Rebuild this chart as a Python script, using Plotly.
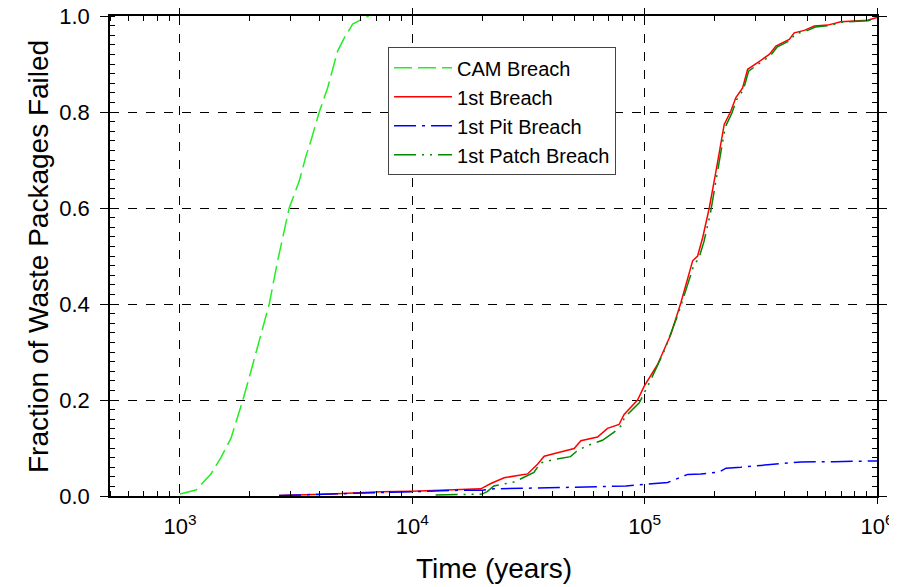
import plotly.graph_objects as go

# ---- data ----
cam_t = [1000, 1172, 1360, 1501, 1657, 1861, 2021, 2231, 2423, 2633, 2953, 3261, 3485, 3662,
         3976, 4320, 4770, 5093, 5536, 6209, 6500]
cam_f = [0.004, 0.0125, 0.046, 0.08, 0.12, 0.198, 0.26, 0.337, 0.40, 0.49, 0.60, 0.656, 0.708,
         0.74, 0.80, 0.85, 0.927, 0.954, 0.983, 0.996, 1.0]

first_t = [2670, 4470, 7330, 10000, 19720, 21780, 24860, 31330, 34600, 36950, 42170, 49740, 53160,
           62680, 69200, 77620, 81580, 93200, 99600, 113700, 129700, 143300, 160900, 169000,
           177700, 189700, 202800, 209600, 220000, 235000, 247000, 264000, 277500, 306400,
           343800, 367300, 419000, 440300, 486600, 537400, 613000, 699400, 911000, 1000000]
first_f = [0.001, 0.004, 0.009, 0.010, 0.015, 0.026, 0.038, 0.046, 0.066, 0.083, 0.090, 0.099, 0.115,
           0.123, 0.141, 0.149, 0.170, 0.200, 0.229, 0.274, 0.337, 0.403, 0.490, 0.500,
           0.538, 0.600, 0.677, 0.715, 0.774, 0.802, 0.830, 0.850, 0.889, 0.903,
           0.920, 0.9375, 0.951, 0.965, 0.970, 0.979, 0.981, 0.988, 0.991, 0.997]

pit_t = [2670, 4470, 7300, 10000, 16100, 20000, 21000, 22400, 38300, 64900, 74000, 83100, 99600,
         125600, 153100, 174700, 209500, 224000, 259600, 385900, 470500, 654600, 1000000]
pit_f = [0.001, 0.004, 0.008, 0.010, 0.012, 0.012, 0.013, 0.015, 0.017, 0.019, 0.021, 0.021, 0.024,
         0.028, 0.045, 0.046, 0.050, 0.058, 0.060, 0.067, 0.071, 0.0715, 0.073]

patch_t = [12600, 18000, 20000, 21000, 22440, 27370, 33370, 35660, 40660, 47960, 51260, 56600,
           65860, 73840, 80300, 81600, 94800, 106500, 121400, 140800, 162500, 171000, 180000,
           192000, 205000, 212000, 222000, 237000, 249000, 266000, 280000, 309000, 347000,
           371000, 423000, 445000, 492000, 543000, 620000, 705000, 915000, 1000000]
patch_f = [0.002, 0.003, 0.004, 0.009, 0.021, 0.029, 0.049, 0.069, 0.076, 0.082, 0.094, 0.105,
           0.116, 0.133, 0.149, 0.163, 0.194, 0.243, 0.302, 0.385, 0.480, 0.495, 0.530,
           0.590, 0.670, 0.708, 0.768, 0.797, 0.826, 0.846, 0.885, 0.900, 0.917,
           0.935, 0.949, 0.963, 0.968, 0.977, 0.980, 0.987, 0.990, 0.996]

series = [
    ("CAM Breach", cam_t, cam_f, "#22ee22", "18px,6px"),
    ("1st Breach", first_t, first_f, "#ff0000", "solid"),
    ("1st Pit Breach", pit_t, pit_f, "#0000ff", "22px,6px,3px,6px"),
    ("1st Patch Breach", patch_t, patch_f, "#008800", "22px,6px,2px,6px,2px,6px"),
]

x_major = [1e3, 1e4, 1e5, 1e6]
x_major_text = ["10<sup>3</sup>", "10<sup>4</sup>", "10<sup>5</sup>", "10<sup>6</sup>"]
y_major = [0.0, 0.2, 0.4, 0.6, 0.8, 1.0]

fig = go.Figure()
for name, t, f, color, dash in series:
    fig.add_trace(go.Scatter(x=t, y=f, mode="lines", name=name,
                             line=dict(color=color, width=1.5, dash=dash)))

x_minor = [m * 10 ** e for e in range(2, 6) for m in range(2, 10) if 500 <= m * 10 ** e <= 1e6]
y_minor = [i / 50 for i in range(51)]

font = "Liberation Sans, Arial, sans-serif"
fig.update_layout(
    width=889, height=579,
    margin=dict(l=102, r=20, t=8, b=91),
    paper_bgcolor="white", plot_bgcolor="white",
    font=dict(family=font, color="black"),
    showlegend=True,
    legend=dict(x=0.3625, y=0.935, xanchor="left", yanchor="top",
                bordercolor="#444", borderwidth=1, bgcolor="white",
                font=dict(size=20, family=font), itemwidth=58,
                tracegroupgap=0),
    annotations=[
        dict(text="Time (years)", xref="paper", yref="paper", x=0.5, y=-0.152,
             xanchor="center", yanchor="middle", showarrow=False,
             font=dict(size=28, family=font)),
        dict(text="Fraction of Waste Packages Failed", xref="paper", yref="paper",
             x=-0.0939, y=0.5, xanchor="center", yanchor="middle", textangle=-90,
             showarrow=False, font=dict(size=28, family=font)),
    ],
)
fig.update_xaxes(
    type="log", range=[2.69897, 6], automargin=False,
    tickmode="array", tickvals=x_major, ticktext=x_major_text,
    tickfont=dict(size=22), ticks="outside", ticklen=6, tickcolor="black",
    showline=True, linecolor="black", linewidth=1.5, mirror="allticks",
    showgrid=True, gridcolor="black", griddash="dash", gridwidth=1,
    zeroline=False, ticklabelstandoff=4, ticklabeloverflow="allow",
    minor=dict(tickmode="array", tickvals=x_minor, ticks="inside", ticklen=5,
               tickcolor="black", showgrid=False),
)
fig.update_yaxes(
    range=[0, 1], automargin=False,
    tickmode="array", tickvals=y_major, ticktext=[f"{v:.1f}" for v in y_major],
    tickfont=dict(size=22), ticks="outside", ticklen=8, tickcolor="black",
    showline=True, linecolor="black", linewidth=1.5, mirror="allticks",
    showgrid=True, gridcolor="black", griddash="dash", gridwidth=1,
    zeroline=False, ticklabelstandoff=6, ticklabeloverflow="allow",
    minor=dict(tickmode="array", tickvals=y_minor, ticks="inside", ticklen=5,
               tickcolor="black", showgrid=False),
)

fig.write_html("out.html")
